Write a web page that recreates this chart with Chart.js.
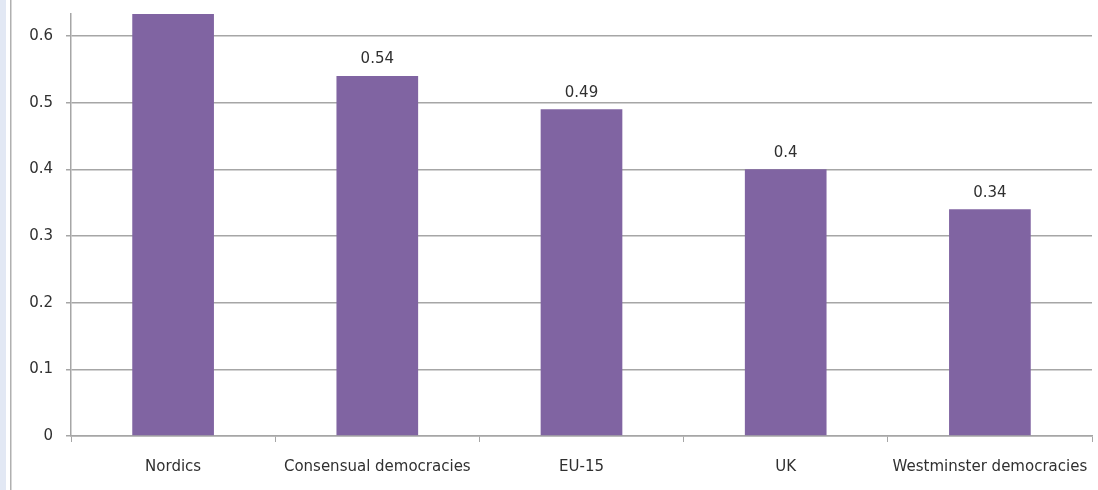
<!DOCTYPE html>
<html>
<head>
<meta charset="utf-8">
<script src="https://cdn.jsdelivr.net/npm/chart.js@4.4.1/dist/chart.umd.min.js"></script>
<style>
  html, body { margin: 0; padding: 0; background: #fff; }
  #wrap { position: relative; width: 1098px; height: 490px; }
</style>
</head>
<body>
<div id="wrap"><canvas id="c" width="1098" height="490"></canvas></div>
<script>
const categories = ["Nordics", "Consensual democracies", "EU-15", "UK", "Westminster democracies"];
const values = [0.70, 0.54, 0.49, 0.40, 0.34];
const yTicks = [0, 0.1, 0.2, 0.3, 0.4, 0.5, 0.6];
const yMax = 0.633;

const FONT = "'DejaVu Sans', sans-serif";
const TEXT = "#303030";
const GRID = "#a6a6a6";

const decor = {
  id: 'decor',
  beforeDraw(chart) {
    const ctx = chart.ctx;
    ctx.save();
    ctx.fillStyle = '#e2e8f4';
    ctx.fillRect(0, 0, 6, 490);
    ctx.fillStyle = '#b0b0b0';
    ctx.fillRect(10, 0, 1.5, 490);
    ctx.restore();
  }
};

const labels = {
  id: 'labels',
  afterDatasetsDraw(chart) {
    const ctx = chart.ctx;
    const meta = chart.getDatasetMeta(0);
    ctx.save();
    ctx.font = "15px " + FONT;
    ctx.fillStyle = TEXT;
    ctx.textAlign = 'center';
    ctx.textBaseline = 'bottom';
    meta.data.forEach((bar, i) => {
      if (bar.y <= chart.chartArea.top + 1) return;
      ctx.fillText(String(values[i]), bar.x, bar.y - 9);
    });
    ctx.restore();
  }
};

new Chart(document.getElementById('c'), {
  type: 'bar',
  data: {
    labels: categories,
    datasets: [{
      data: values,
      backgroundColor: '#8064a2',
      borderWidth: 0,
      barPercentage: 0.4,
      categoryPercentage: 1.0
    }]
  },
  options: {
    responsive: false,
    animation: false,
    events: [],
    layout: { padding: { top: 14, right: 6, left: 0, bottom: 0 } },
    plugins: { legend: { display: false }, tooltip: { enabled: false } },
    scales: {
      x: {
        offset: true,
        grid: { offset: true, drawOnChartArea: false, drawTicks: true, tickLength: 6, color: GRID },
        border: { color: GRID, width: 1.5 },
        ticks: { font: { family: FONT, size: 15 }, color: TEXT, padding: 16, maxRotation: 0, autoSkip: false },
        afterFit(scale) { scale.height = 54; scale.paddingLeft = 0; scale.paddingRight = 0; }
      },
      y: {
        min: 0,
        max: yMax,
        afterBuildTicks(scale) { scale.ticks = yTicks.map(v => ({ value: v })); },
        grid: { color: GRID, lineWidth: 1.5, tickLength: 5 },
        border: { color: GRID, width: 1.5 },
        ticks: { font: { family: FONT, size: 15 }, color: TEXT, padding: 13,
                 callback: v => String(Math.round(v * 10) / 10) },
        afterFit(scale) { scale.width = 71; scale.paddingTop = 0; scale.paddingBottom = 0; }
      }
    }
  },
  plugins: [decor, labels]
});
</script>
</body>
</html>
